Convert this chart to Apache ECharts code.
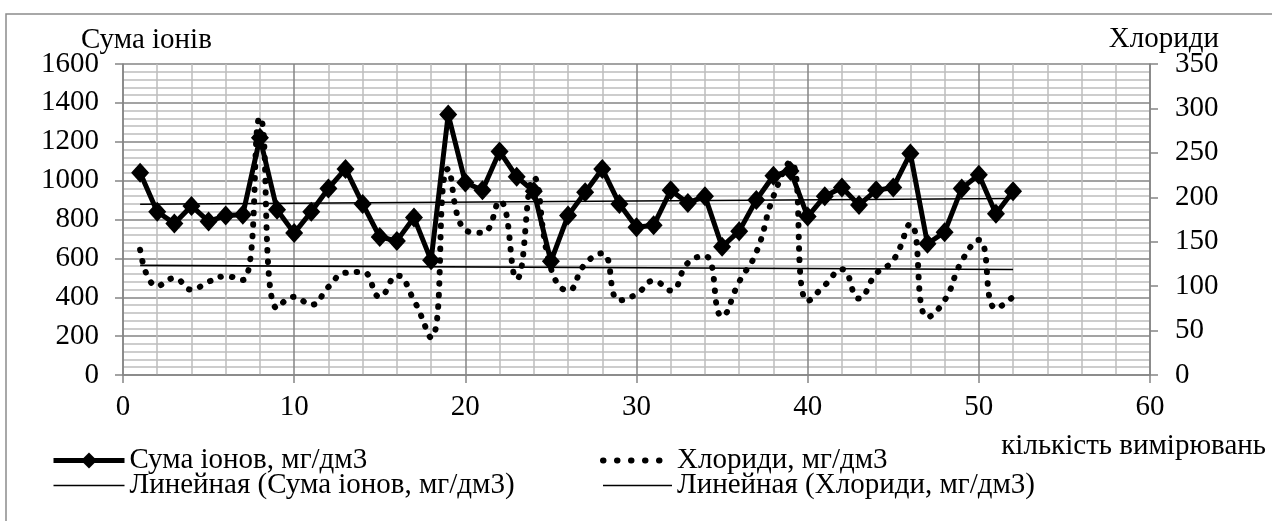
<!DOCTYPE html>
<html><head><meta charset="utf-8">
<script src="https://cdn.jsdelivr.net/npm/echarts@6/dist/echarts.min.js"></script>
<style>html,body{margin:0;padding:0;background:#fff}#c{width:1272px;height:521px}</style>
</head><body><div id="c"></div>
<script>
// ---- data ----
const measurements = [1,2,3,4,5,6,7,8,9,10,11,12,13,14,15,16,17,18,19,20,21,22,23,24,25,26,27,28,29,30,31,32,33,34,35,36,37,38,39,40,41,42,43,44,45,46,47,48,49,50,51,52];
const sumIons = [1040,840,780,870,790,820,825,1220,850,730,840,960,1060,880,710,690,810,590,1340,990,950,1150,1020,945,585,820,940,1060,880,760,770,950,885,920,660,740,900,1025,1050,815,920,965,875,950,965,1140,675,735,960,1030,830,945];
const chlorides = [141,100,109,96,105,111,107,290,75,88,79,99,115,116,88,112,84,42,232,163,160,196,108,222,120,95,125,137,84,91,106,95,126,134,66,105,138,201,240,83,101,119,86,114,129,170,65,84,128,152,75,88];
const xAxisRange = [0, 60, 10];
const leftAxisRange = [0, 1600, 200];
const rightAxisRange = [0, 350, 50];
const seriesNames = ['Сума іонов, мг/дм3','Хлориди, мг/дм3','Линейная (Сума іонов, мг/дм3)','Линейная (Хлориди, мг/дм3)'];
const axisTitles = ['Сума іонів','Хлориди','кількість вимірювань'];

// least-squares trend (like Excel "Linear" trendline)
function trend(xs, ys) {
  const n = xs.length;
  let sx=0, sy=0, sxx=0, sxy=0;
  for (let i=0;i<n;i++){sx+=xs[i];sy+=ys[i];sxx+=xs[i]*xs[i];sxy+=xs[i]*ys[i];}
  const b=(n*sxy-sx*sy)/(n*sxx-sx*sx), a=(sy-b*sx)/n;
  const x0=xs[0], x1=xs[n-1];
  return [[x0,a+b*x0],[x1,a+b*x1]];
}

const FONT = "'Liberation Serif','Times New Roman',serif";
const FS = 29;
const major = '#858585', minor = '#bdbdbd';
const plain = v => String(v);
const dotStyle = {color:'#000', width:6, type:[0.5, 11], cap:'round'};
const legendDotStyle = {color:'#000', width:6, type:[0.5, 13.5], cap:'round'};
const hidden = {opacity:0};

const chart = echarts.init(document.getElementById('c'), null, {renderer:'canvas'});
chart.setOption({
  animation: false,
  backgroundColor: '#fff',
  textStyle: {fontFamily: FONT},
  grid: {left:123, top:64, width:1027, height:311, containLabel:false, outerBoundsMode:'none'},
  xAxis: {
    type:'value', min:xAxisRange[0], max:xAxisRange[1], interval:xAxisRange[2],
    axisLine:{show:true, onZero:false, lineStyle:{color:major, width:1.5}},
    axisTick:{show:true, inside:false, length:8, lineStyle:{color:major, width:1.5}},
    axisLabel:{margin:18, fontSize:FS, color:'#000', fontFamily:FONT, formatter:plain},
    splitLine:{show:true, lineStyle:{color:major, width:1.5}},
    minorTick:{show:false, splitNumber:5},
    minorSplitLine:{show:true, lineStyle:{color:minor, width:1.5}}
  },
  yAxis: [{
    type:'value', position:'left', min:leftAxisRange[0], max:leftAxisRange[1], interval:leftAxisRange[2],
    axisLine:{show:true, lineStyle:{color:major, width:1.5}},
    axisTick:{show:true, inside:false, length:8, lineStyle:{color:major, width:1.5}},
    axisLabel:{margin:24, fontSize:FS, color:'#000', fontFamily:FONT, formatter:plain},
    splitLine:{show:true, lineStyle:{color:major, width:1.5}},
    minorTick:{show:false, splitNumber:5},
    minorSplitLine:{show:true, lineStyle:{color:minor, width:1.5}}
  },{
    type:'value', position:'right', min:rightAxisRange[0], max:rightAxisRange[1], interval:rightAxisRange[2],
    axisLine:{show:true, lineStyle:{color:major, width:1.5}},
    axisTick:{show:true, inside:false, length:8, lineStyle:{color:major, width:1.5}},
    axisLabel:{margin:25, fontSize:FS, color:'#000', fontFamily:FONT, formatter:plain},
    splitLine:{show:false}
  }],
  legend: [{
    data:[
      {name:seriesNames[0], lineStyle:{color:'#000', width:5}},
      {name:seriesNames[2], lineStyle:{color:'#000', width:1.6}, itemStyle:hidden}
    ],
    orient:'vertical', left:46, top:441,
    itemWidth:71, itemHeight:20, itemGap:-4, padding:5,
    textStyle:{fontSize:FS, fontFamily:FONT, color:'#000', lineHeight:24},
    selectedMode:false
  },{
    data:[
      {name:seriesNames[1], lineStyle:legendDotStyle, itemStyle:hidden},
      {name:seriesNames[3], lineStyle:{color:'#000', width:1.6}, itemStyle:hidden}
    ],
    orient:'vertical', left:595, top:441,
    itemWidth:69, itemHeight:20, itemGap:-4, padding:5,
    textStyle:{fontSize:FS, fontFamily:FONT, color:'#000', lineHeight:24},
    selectedMode:false
  }],
  graphic: [
    {type:'rect', silent:true, z:-1, shape:{x:6, y:14, width:1400, height:800}, style:{fill:'none', stroke:'#8c8c8c', lineWidth:1.5}},
    {type:'text', silent:true, x:81, y:40, style:{text:axisTitles[0], fontSize:FS, fontFamily:FONT, fill:'#000', align:'left', verticalAlign:'middle'}},
    {type:'text', silent:true, x:1219, y:39, style:{text:axisTitles[1], fontSize:FS, fontFamily:FONT, fill:'#000', align:'right', verticalAlign:'middle'}},
    {type:'text', silent:true, x:1266, y:446, style:{text:axisTitles[2], fontSize:FS, fontFamily:FONT, fill:'#000', align:'right', verticalAlign:'middle'}}
  ],
  series: [{
    name:seriesNames[0], type:'line', xAxisIndex:0, yAxisIndex:0,
    data: measurements.map((x,i)=>[x, sumIons[i]]),
    symbol:'diamond', symbolSize:[18,20], showSymbol:true,
    lineStyle:{color:'#000', width:5}, itemStyle:{color:'#000'}
  },{
    name:seriesNames[1], type:'line', xAxisIndex:0, yAxisIndex:1,
    data: measurements.map((x,i)=>[x, chlorides[i]]),
    smooth:true, symbol:'none',
    lineStyle:dotStyle, itemStyle:{color:'#000'}
  },{
    name:seriesNames[2], type:'line', xAxisIndex:0, yAxisIndex:0,
    data: trend(measurements, sumIons), symbol:'none',
    lineStyle:{color:'#000', width:1.6}, itemStyle:{color:'#000'}
  },{
    name:seriesNames[3], type:'line', xAxisIndex:0, yAxisIndex:1,
    data: trend(measurements, chlorides), symbol:'none',
    lineStyle:{color:'#000', width:1.6}, itemStyle:{color:'#000'}
  }]
});
</script></body></html>
